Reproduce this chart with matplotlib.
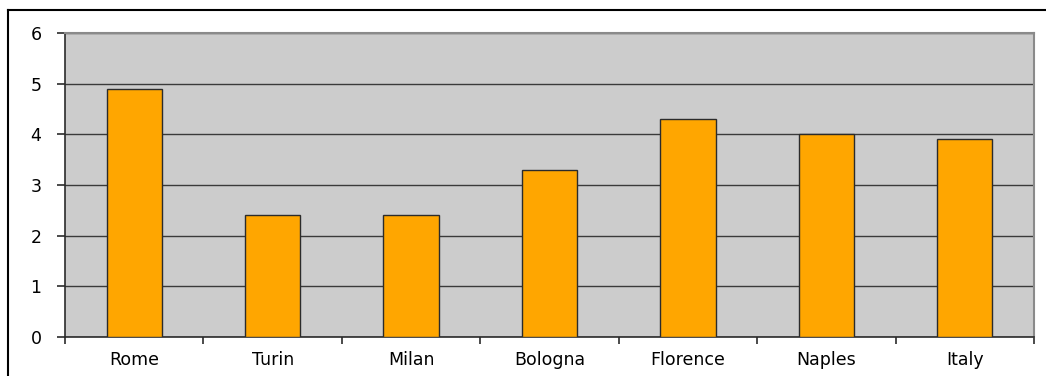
import matplotlib
matplotlib.use('Agg')
import matplotlib.pyplot as plt
from matplotlib.lines import Line2D
import numpy as np

cities = ['Rome', 'Turin', 'Milan', 'Bologna', 'Florence', 'Naples', 'Italy']
values = [4.9, 2.4, 2.4, 3.3, 4.3, 4.0, 3.9]
y_ticks = [0, 1, 2, 3, 4, 5, 6]

plt.rcParams['font.family'] = ['DejaVu Sans']

W, H = 1046, 376
fig = plt.figure(figsize=(W / 100, H / 100), dpi=100)
fig.patch.set_facecolor('white')

# plot area in pixel terms
left, right, top, bottom = 65, 1034, 33, 337
ax = fig.add_axes([left / W, (H - bottom) / H, (right - left) / W, (bottom - top) / H])
ax.set_facecolor('#cccccc')

x = np.arange(len(cities))
ax.bar(x, values, width=0.4, color='#ffa600', edgecolor='#2b2b2b', linewidth=1.0, zorder=3)

ax.set_xlim(-0.5, len(cities) - 0.5)
ax.set_ylim(0, 6)
ax.set_yticks(y_ticks)
ax.set_yticklabels([str(t) for t in y_ticks])
ax.yaxis.grid(True, color='#3a3a3a', linewidth=1.0)
ax.set_axisbelow(True)

# labels at category centres, tick marks at the boundaries
ax.set_xticks(x)
ax.set_xticklabels(cities)
ax.set_xticks(np.arange(len(cities) + 1) - 0.5, minor=True)
ax.tick_params(axis='x', which='major', length=0, pad=10, labelsize=12.5)
ax.tick_params(axis='x', which='minor', length=5, width=1.2, color='#2b2b2b', direction='out')
ax.tick_params(axis='y', length=6, width=1.2, color='#2b2b2b', direction='out', pad=11, labelsize=12.5)

for side in ['left', 'bottom']:
    ax.spines[side].set_color('#2b2b2b')
    ax.spines[side].set_linewidth(1.2)
for side in ['top', 'right']:
    ax.spines[side].set_color('#8a8a8a')
    ax.spines[side].set_linewidth(1.5)

# chart frame (left and top edges)
fig.add_artist(Line2D([8 / W, 8 / W], [0, (H - 10) / H], color='black', linewidth=1.5, transform=fig.transFigure))
fig.add_artist(Line2D([8 / W, 1], [(H - 10) / H, (H - 10) / H], color='black', linewidth=1.5, transform=fig.transFigure))

fig.savefig('out.png', dpi=100)
